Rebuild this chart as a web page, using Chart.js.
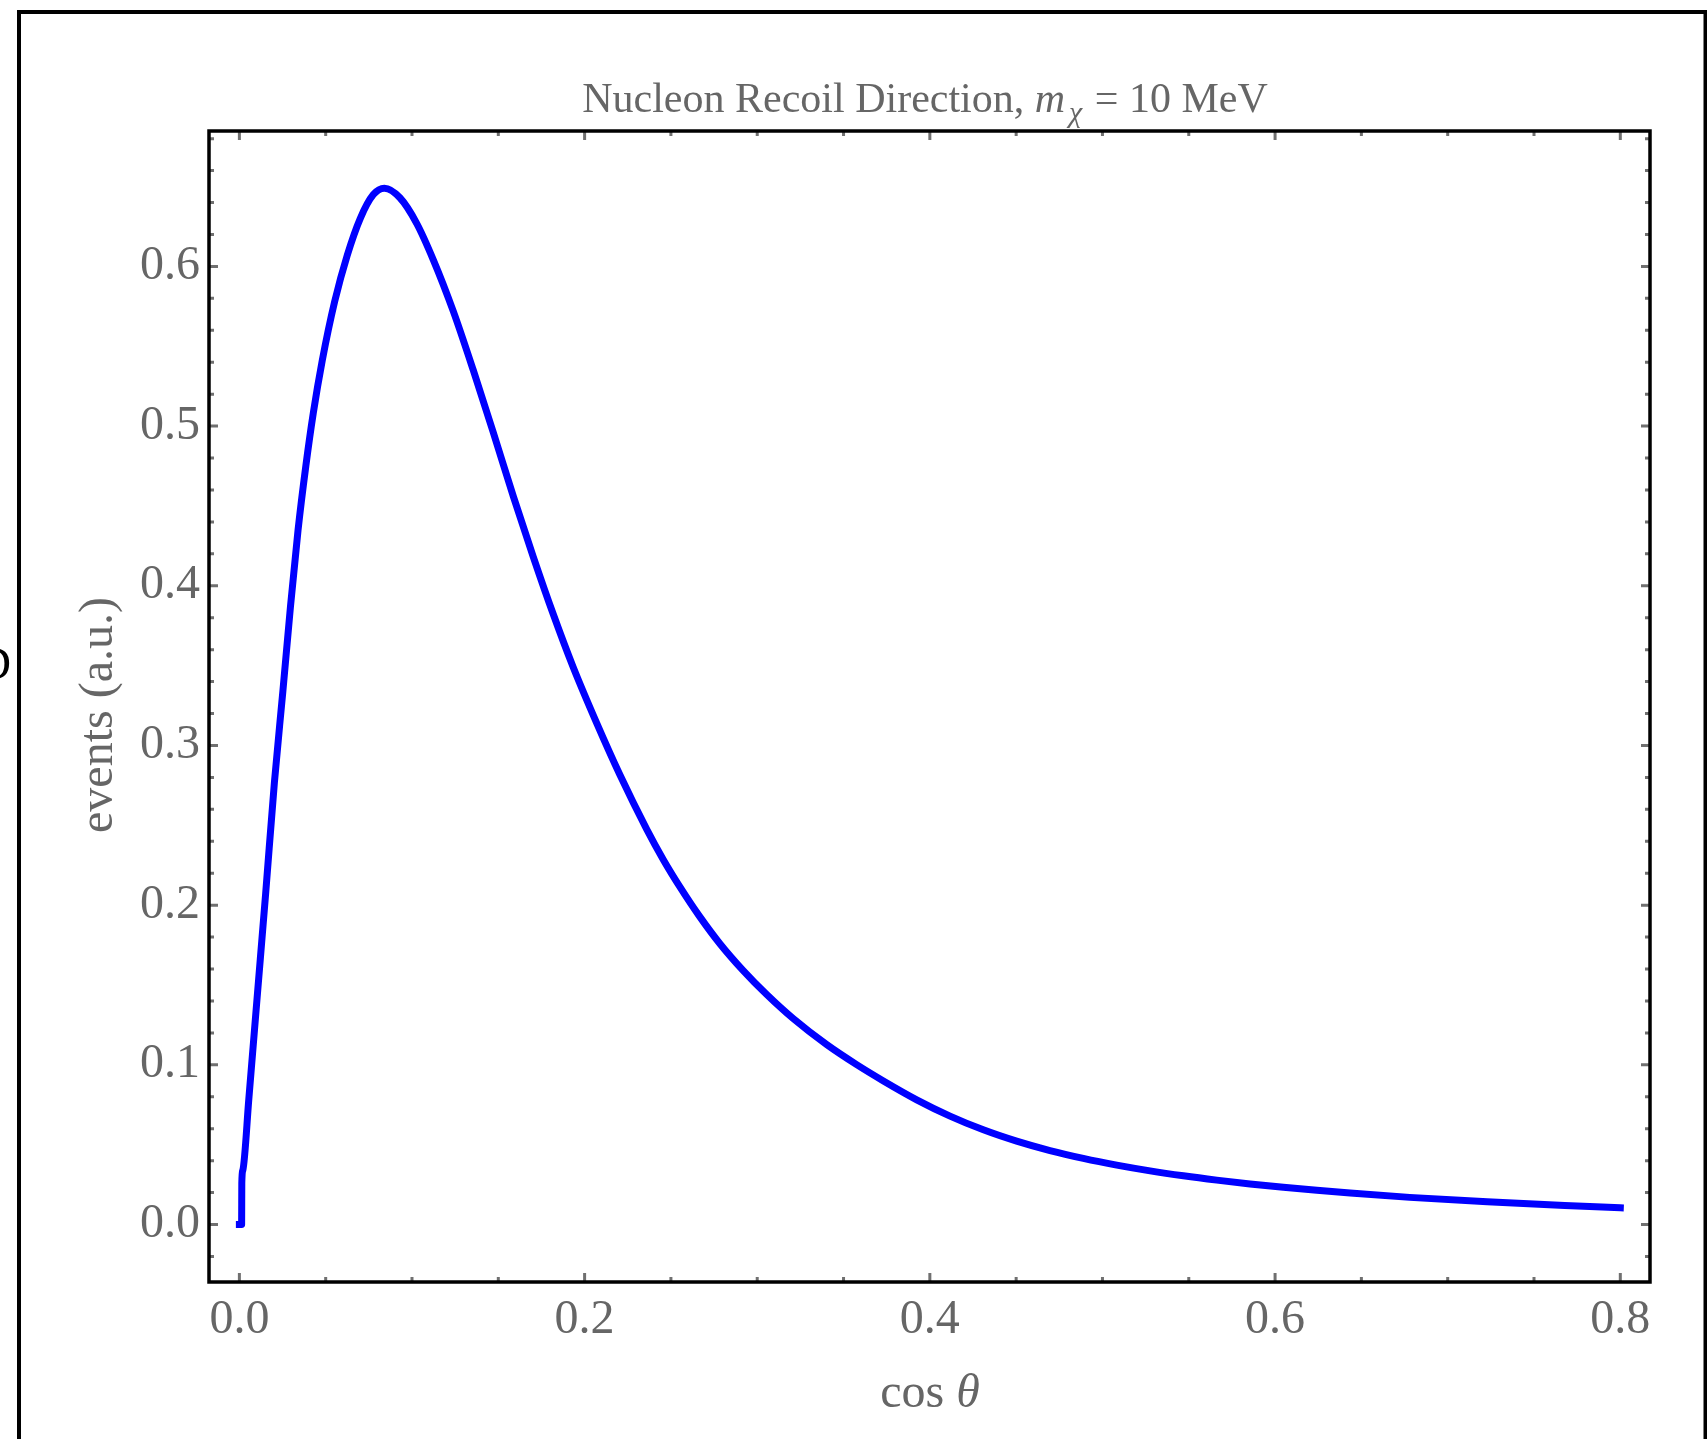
<!doctype html>
<html>
<head>
    <meta charset="UTF-8">
    <title>Nucleon Recoil Direction</title>
    <script src="https://cdn.jsdelivr.net/npm/chart.js"></script>
    <style>
        html, body {
            margin: 0;
            padding: 0;
            background-color: #ffffff;
            overflow: hidden;
        }

        #grafico {
            position: absolute;
            left: 0;
            top: 0;
        }
    </style>
</head>
<body>
    <canvas id="grafico" width="1707" height="1439"></canvas>

    <script>
        // valores
        var cosTheta = [0, 0.0013, 0.0014, 0.002, 0.0055, 0.0105, 0.0152, 0.0203, 0.0252, 0.0296, 0.034,
            0.0385, 0.0428, 0.048, 0.0552, 0.0625, 0.07, 0.0776, 0.084, 0.093, 0.1027,
            0.1124, 0.1239, 0.1355, 0.1471, 0.1587, 0.1703, 0.1819, 0.1934, 0.207, 0.2205,
            0.236, 0.2456, 0.2553, 0.2669, 0.2785, 0.2919, 0.3055, 0.3209, 0.3403, 0.3576,
            0.3731, 0.3924, 0.4117, 0.431, 0.4503, 0.4696, 0.4889, 0.5083, 0.5276, 0.5469,
            0.5662, 0.5855, 0.6048, 0.6242, 0.6435, 0.678, 0.7229, 0.7678, 0.8];
        var eventos = [0, 0, 0.026, 0.034, 0.079, 0.145, 0.207, 0.277, 0.334, 0.387, 0.435,
            0.475, 0.508, 0.541, 0.578, 0.607, 0.63, 0.645, 0.649, 0.643, 0.627,
            0.604, 0.572, 0.535, 0.496, 0.456, 0.418, 0.382, 0.349, 0.314, 0.2815,
            0.2475, 0.2285, 0.2113, 0.1925, 0.1757, 0.159, 0.144, 0.1289, 0.1126, 0.1001,
            0.0899, 0.0781, 0.0679, 0.0593, 0.0522, 0.0463, 0.0414, 0.0372, 0.0336, 0.0305,
            0.0278, 0.0254, 0.0233, 0.0214, 0.0197, 0.017, 0.0142, 0.0119, 0.0105];

        var xTicks = [0, 0.2, 0.4, 0.6, 0.8];
        var yTicks = [0, 0.1, 0.2, 0.3, 0.4, 0.5, 0.6];
        var xMinor = [0.05, 0.1, 0.15, 0.25, 0.3, 0.35, 0.45, 0.5, 0.55, 0.65, 0.7, 0.75];
        var yMinor = [-0.02, 0.02, 0.04, 0.06, 0.08, 0.12, 0.14, 0.16, 0.18, 0.22, 0.24, 0.26, 0.28,
            0.32, 0.34, 0.36, 0.38, 0.42, 0.44, 0.46, 0.48, 0.52, 0.54, 0.56, 0.58,
            0.62, 0.64, 0.66, 0.68];

        var serif = '"Liberation Serif", "DejaVu Serif", serif';
        var cinza = '#666666';
        var cinzaTick = '#707070';

        function textoComposto(ctx, partes, cx, y) {
            var total = 0;
            partes.forEach(p => {
                ctx.font = p.f;
                p.w = ctx.measureText(p.t).width + (p.gap || 0);
                total += p.w;
            });
            var x = cx - total / 2;
            ctx.textAlign = 'left';
            ctx.textBaseline = 'alphabetic';
            partes.forEach(p => {
                ctx.font = p.f;
                ctx.fillText(p.t, x, y + (p.dy || 0));
                x += p.w;
            });
        }

        var moldura = {
            id: 'moldura',
            beforeDraw(chart) {
                var ctx = chart.ctx;
                ctx.save();
                ctx.fillStyle = '#ffffff';
                ctx.fillRect(0, 0, chart.width, chart.height);
                // borda externa
                ctx.strokeStyle = '#000000';
                ctx.lineWidth = 4;
                ctx.strokeRect(19, 12, 1705.5 - 19, 2000);
                // pedaço de letra cortado na margem
                ctx.fillStyle = '#000000';
                ctx.font = '46px ' + serif;
                ctx.textAlign = 'right';
                ctx.textBaseline = 'alphabetic';
                ctx.fillText('D', 11, 679);
                ctx.restore();
            },
            afterDraw(chart) {
                var ctx = chart.ctx;
                var a = chart.chartArea;
                var sx = chart.scales.x;
                var sy = chart.scales.y;
                ctx.save();

                // ticks para dentro, nos quatro lados
                ctx.strokeStyle = cinzaTick;
                ctx.lineWidth = 3;
                function tickX(v, len) {
                    var px = sx.getPixelForValue(v);
                    ctx.beginPath();
                    ctx.moveTo(px, a.bottom);
                    ctx.lineTo(px, a.bottom - len);
                    ctx.moveTo(px, a.top);
                    ctx.lineTo(px, a.top + len);
                    ctx.stroke();
                }
                function tickY(v, len) {
                    var py = sy.getPixelForValue(v);
                    ctx.beginPath();
                    ctx.moveTo(a.left, py);
                    ctx.lineTo(a.left + len, py);
                    ctx.moveTo(a.right, py);
                    ctx.lineTo(a.right - len, py);
                    ctx.stroke();
                }
                xTicks.forEach(v => tickX(v, 9));
                xMinor.forEach(v => tickX(v, 5));
                yTicks.forEach(v => tickY(v, 9));
                yMinor.forEach(v => tickY(v, 5));

                // moldura do gráfico
                ctx.strokeStyle = '#000000';
                ctx.lineWidth = 3.5;
                ctx.strokeRect(a.left, a.top, a.right - a.left, a.bottom - a.top);

                // título
                ctx.fillStyle = cinza;
                textoComposto(ctx, [
                    { t: 'Nucleon Recoil Direction, ', f: '42px ' + serif },
                    { t: 'm', f: 'italic 42px ' + serif, gap: 4 },
                    { t: '\u03C7', f: 'italic 30px ' + serif, dy: 10, gap: 2 },
                    { t: ' = 10 MeV', f: '42px ' + serif }
                ], 925, 111.5);

                // eixo x
                textoComposto(ctx, [
                    { t: 'cos ', f: '48px ' + serif },
                    { t: '\u03B8', f: 'italic 48px ' + serif }
                ], 930, 1407);

                // eixo y
                ctx.save();
                ctx.translate(112, 715);
                ctx.rotate(-Math.PI / 2);
                ctx.font = '48px ' + serif;
                ctx.textAlign = 'center';
                ctx.textBaseline = 'alphabetic';
                ctx.fillText('events (a.u.)', 0, 0);
                ctx.restore();

                ctx.restore();
            }
        };

        var pontos = cosTheta.map((x, i) => ({ x: x, y: eventos[i] }));

        var grafico = new Chart(document.getElementById('grafico').getContext('2d'), {
            type: 'scatter',
            data: {
                datasets: [{
                    data: pontos,
                    showLine: true,
                    borderColor: '#0000ff',
                    borderWidth: 7,
                    pointRadius: 0,
                    fill: false,
                    cubicInterpolationMode: 'monotone',
                    borderCapStyle: 'square',
                    borderJoinStyle: 'round'
                }]
            },
            options: {
                responsive: false,
                animation: false,
                layout: {
                    padding: { top: 131, right: 57, left: 0, bottom: 0 }
                },
                plugins: {
                    legend: { display: false },
                    tooltip: { enabled: false }
                },
                scales: {
                    x: {
                        type: 'linear',
                        min: -0.0176,
                        max: 0.8172,
                        grid: { display: false, drawTicks: false },
                        border: { display: false },
                        afterBuildTicks: s => { s.ticks = xTicks.map(v => ({ value: v })); },
                        afterFit: s => { s.height = 157; },
                        ticks: {
                            color: cinza,
                            font: { family: serif, size: 48 },
                            padding: 10,
                            maxRotation: 0,
                            autoSkip: false,
                            callback: v => v.toFixed(1)
                        }
                    },
                    y: {
                        type: 'linear',
                        min: -0.036,
                        max: 0.6848,
                        grid: { display: false, drawTicks: false },
                        border: { display: false },
                        afterBuildTicks: s => { s.ticks = yTicks.map(v => ({ value: v })); },
                        afterFit: s => { s.width = 209; },
                        ticks: {
                            color: cinza,
                            font: { family: serif, size: 48 },
                            padding: 9,
                            autoSkip: false,
                            callback: v => v.toFixed(1)
                        }
                    }
                }
            },
            plugins: [moldura]
        });
    </script>
</body>
</html>
